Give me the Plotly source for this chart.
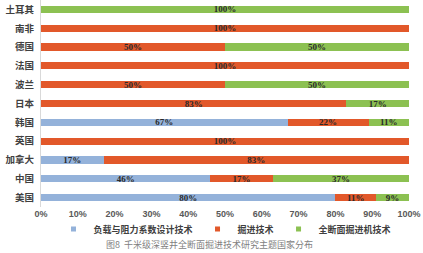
import plotly.graph_objects as go

countries = ["美国", "中国", "加拿大", "英国", "韩国", "日本", "波兰", "法国", "德国", "南非", "土耳其"]
load_design = [80, 46, 17, 0, 67, 0, 0, 0, 0, 0, 0]
tunneling = [11, 17, 83, 100, 22, 83, 50, 100, 50, 100, 0]
full_face = [9, 37, 0, 0, 11, 17, 50, 0, 50, 0, 100]
series_names = ["负载与阻力系数设计技术", "掘进技术", "全断面掘进机技术"]
colors = ["#94B2DA", "#E2582A", "#8CC152"]
xticks = [0, 10, 20, 30, 40, 50, 60, 70, 80, 90, 100]
caption = "图8  千米级深竖井全断面掘进技术研究主题国家分布"

fig = go.Figure()
for name, vals, col in zip(series_names, [load_design, tunneling, full_face], colors):
    fig.add_trace(go.Bar(
        y=countries, x=vals, name=name, orientation="h",
        marker=dict(color=col, line=dict(width=0)),
        text=[f"{v}%" if v else "" for v in vals],
        textposition="inside", insidetextanchor="middle",
        textfont=dict(family="Liberation Serif", size=9, color="#2a2a2a", weight="bold"),
        textangle=0, constraintext="none", showlegend=False,
    ))
# legend entries with small square markers
for name, col in zip(series_names, colors):
    fig.add_trace(go.Scatter(
        x=[None], y=[None], mode="markers", name=name,
        marker=dict(symbol="square", size=5, color=col),
        showlegend=True,
    ))

fig.update_layout(
    barmode="stack", bargap=0.62,
    width=423, height=253,
    margin=dict(l=41, r=14, t=0, b=46, autoexpand=False),
    plot_bgcolor="white", paper_bgcolor="white",
    font=dict(family="Noto Sans CJK SC", color="#404040"),
    xaxis=dict(range=[0, 100], tickvals=xticks, ticktext=[f"{t}%" for t in xticks],
               showgrid=False, zeroline=False, showline=False, automargin=False,
               tickfont=dict(family="Liberation Sans", size=9, color="#595959", weight="bold")),
    yaxis=dict(showline=True, linecolor="#d9d9d9", linewidth=1, ticks="", automargin=False,
               tickfont=dict(family="Noto Sans CJK SC", size=9.5, color="#404040", weight="bold"),
               ticklabelstandoff=4),
    legend=dict(orientation="h", x=0.5, xanchor="center", y=0.152, yanchor="top",
                yref="container", bgcolor="rgba(0,0,0,0)",
                font=dict(family="Noto Sans CJK SC", size=9, color="#404040", weight="bold"),
                itemwidth=30, traceorder="normal"),
    showlegend=True,
    annotations=[dict(text=caption, xref="paper", yref="paper", x=0.457, y=-0.14,
                      xanchor="center", yanchor="top", showarrow=False,
                      font=dict(family="Noto Sans CJK SC", size=9, color="#7f7f7f"))],
)
fig.write_html("out.html")
